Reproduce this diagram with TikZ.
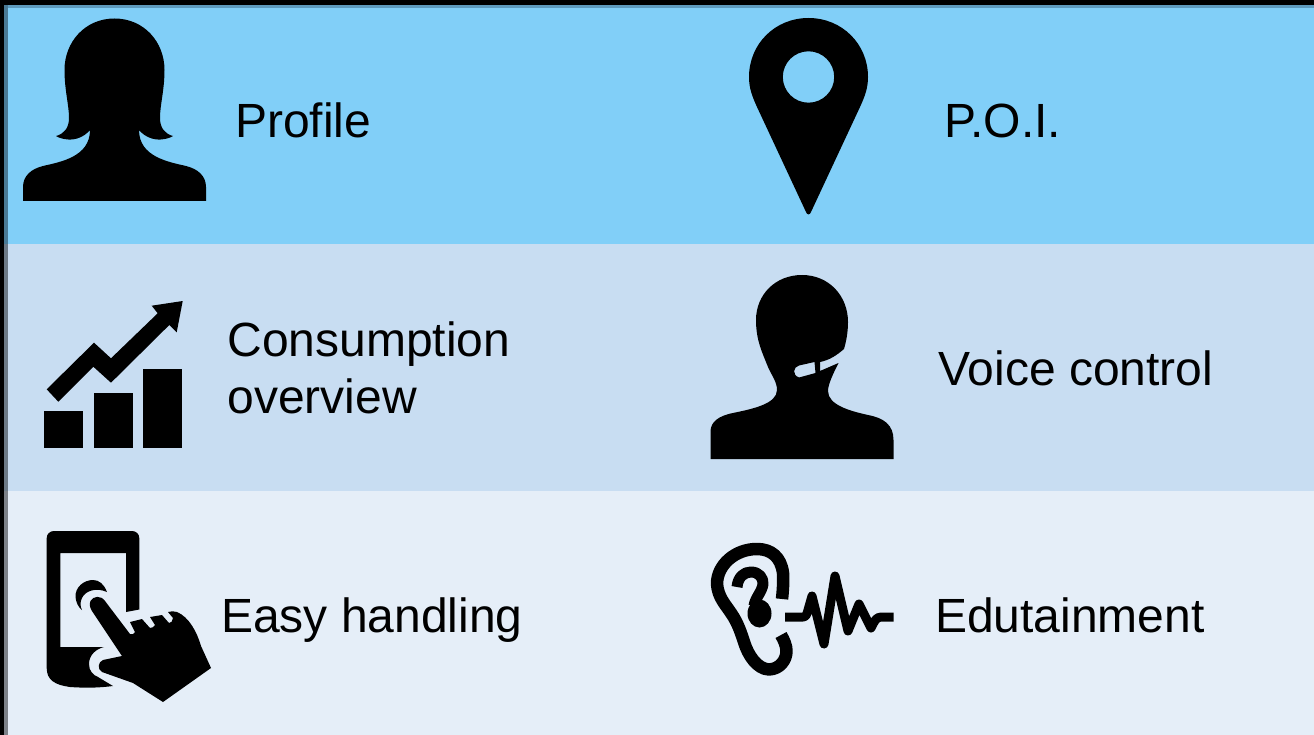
\documentclass[tikz,border=0pt]{standalone}
\usepackage{fontspec}
\setmainfont{Liberation Sans}
\definecolor{bandA}{HTML}{81CFF8}
\definecolor{bandB}{HTML}{C8DDF2}
\definecolor{bandC}{HTML}{E5EEF8}
\definecolor{edgeA}{HTML}{4A7A95}
\definecolor{edgeB}{HTML}{6C7A87}
\definecolor{edgeC}{HTML}{7C8188}
\definecolor{edgeT}{HTML}{5F9BBE}
\tikzset{
  txt/.style={anchor=base west,inner sep=0pt,outer sep=0pt,font=\fontsize{48}{57}\selectfont,text=black},
  icon/.style={fill=black,draw=none,even odd rule},
  strokeline/.style={draw=black,line width=#1,line cap=butt,line join=round},
}
\begin{document}
\begin{tikzpicture}[x=1pt,y=-1pt]
\useasboundingbox (0,0) rectangle (1314,735);
% background bands
\fill[black] (0,0) rectangle (1314,735);
\fill[edgeT] (8,5) rectangle (1314,8);
\fill[edgeA] (4,5) rectangle (8,244);
\fill[edgeB] (4,244) rectangle (8,491);
\fill[edgeC] (4,491) rectangle (8,735);
\fill[bandA] (8,8) rectangle (1314,244);
\fill[bandB] (8,244) rectangle (1314,491);
\fill[bandC] (8,491) rectangle (1314,735);
% woman
\path[icon] (23,201) -- (23,187) .. controls (23,176) and (31,169) .. (43,166)
  .. controls (60,162) and (90,157) .. (90,130)
  .. controls (84,137) and (76,140) .. (68,139.5) .. controls (63,139) and (59,138) .. (56,136)
  .. controls (64,134) and (69,128) .. (69,118) .. controls (69,105) and (64.5,90) .. (64.5,70)
  .. controls (64.5,42) and (85,18.5) .. (114.5,18.5) .. controls (144,18.5) and (164.5,42) .. (164.5,70)
  .. controls (164.5,90) and (160,105) .. (160,118) .. controls (160,128) and (165,134) .. (173,136)
  .. controls (170,138) and (166,139) .. (161,139.5) .. controls (153,140) and (145,137) .. (139,130)
  .. controls (139,157) and (169,162) .. (186,166)
  .. controls (198,169) and (206,176) .. (206,187) -- (206,201) -- cycle;
% pin
\path[icon] (808.5,214.5) .. controls (807,214.5) and (806.5,213) .. (806,212) -- (757,107)
  .. controls (752,96) and (749,88) .. (749,77) .. controls (749,44) and (775,18) .. (808.5,18)
  .. controls (842,18) and (868,44) .. (868,77) .. controls (868,88) and (865,96) .. (860,107)
  -- (811,212) .. controls (810.5,213) and (810,214.5) .. (808.5,214.5) -- cycle
  (808.5,77) circle [radius=25.7];
% chart
\fill[black] (44.3,411) rectangle (82.7,448);
\fill[black] (94,393.3) rectangle (132.7,448);
\fill[black] (143.3,369.3) rectangle (182.3,448);
\path[icon] (46.7,389.3) -- (94,342.7) -- (111,358.3) -- (157.7,313.3) -- (151.7,305.7)
  -- (182.7,301) -- (176.7,332.3) -- (169.3,325) -- (111,382.7) -- (93.3,366.7) -- (58.3,401.7) -- cycle;
% voice
\path[icon] (710.5,459) -- (710.5,431) .. controls (711,422) and (718,416) .. (733,413)
  .. controls (752,409) and (777,404) .. (777,390) .. controls (777,382) and (772,376) .. (768,367)
  .. controls (762,352) and (756,340) .. (756,320) .. controls (756,295) and (775,275) .. (802,275)
  .. controls (829,275) and (848,296) .. (848,322) .. controls (848,333) and (846,342) .. (844,349)
  .. controls (837,355) and (830,360) .. (820,362) -- (820,371) -- (838.5,363)
  .. controls (834,372) and (828,384) .. (828,391) .. controls (828,405) and (850,411) .. (868,415)
  .. controls (884,418) and (893.5,425) .. (893.5,440) -- (893.5,459) -- cycle
  (814.5,362) -- (799,365.5) .. controls (793,367) and (792,375) .. (799,377.5) -- (815.5,373) -- cycle;
% phone
\path[icon] (46.7,538) .. controls (46.7,534) and (50,531) .. (54,531) -- (132,531)
  .. controls (136,531) and (139.3,534) .. (139.3,538) -- (139.3,609.5) -- (126,612) -- (126,553)
  -- (60.3,553) -- (60.3,647) -- (104,647) .. controls (96,649) and (89,655) .. (89,664)
  .. controls (89,671) and (93,675) .. (98,677) -- (113,686) .. controls (98,688) and (84,688) .. (70,687)
  .. controls (55,685) and (46.7,680) .. (46.7,668) -- cycle;
\path[icon] (107,592) .. controls (104,584) and (99,580) .. (93,580) .. controls (84,580) and (75,587) .. (75.5,597)
  .. controls (76,602) and (78,607) .. (82,610) .. controls (80,606) and (80,602) .. (82,598)
  .. controls (85,591) and (96,587) .. (107,592) -- cycle;
\path[icon] (105,601) .. controls (101,595) and (93,596) .. (90.5,601) .. controls (89,604) and (90,608) .. (92,611)
  -- (122,656) -- (103,660) .. controls (98,662) and (97,669) .. (102,672) -- (133,683) -- (163,702) -- (211,668)
  -- (201,646) .. controls (197,632) and (189,617) .. (177,612) .. controls (174,611) and (171,611) .. (168,612)
  -- (173,618) .. controls (173,621) and (171,623) .. (169,623) -- (162,615) -- (150,617) -- (155,625)
  .. controls (154,627) and (152,628) .. (150,628) -- (142,619) -- (130,622) -- (135,632)
  .. controls (134,634) and (132,635) .. (130,634) -- cycle;
% ear
\draw[strokeline=12.5pt] (782,599) .. controls (783,590) and (783.5,581) .. (783,573)
  .. controls (781,557) and (771,549) .. (757,549) .. controls (735,549) and (717,565) .. (717,584)
  .. controls (718,597) and (725,604) .. (731,613) .. controls (738,623) and (741,633) .. (744,642)
  .. controls (748,655) and (757,669) .. (769,669.5) .. controls (780,669) and (786.5,660) .. (786.5,651)
  .. controls (786.5,646) and (784,640) .. (781,635);
\draw[strokeline=11pt] (737,587) .. controls (738,577) and (744,572) .. (751,572)
  .. controls (759,572) and (763.5,578) .. (763,584) .. controls (762,592) and (755,598) .. (754,606);
\fill[black] (759.5,613.5) ellipse [x radius=12,y radius=14];
\draw[strokeline=9pt] (785,617) -- (803,617) .. controls (806,617) and (807,614) .. (808,610)
  -- (812,596) -- (824,644) -- (835,576) -- (848,631) -- (859,604) -- (871,628)
  .. controls (874,622) and (876,617) .. (881,617) -- (893.5,617);
% labels
\node[txt] (profile) at (235,138) {Profile};
\node[txt] (poi) at (944.5,138) {P.O.I.};
\node[txt] (consumption) at (227.5,356.5) {Consumption};
\node[txt] (overview) at (227.5,413.5) {overview};
\node[txt] (voice) at (938.5,385) {Voice control};
\node[txt] (easy) at (221,632) {Easy handling};
\node[txt] (edu) at (935,632) {Edutainment};
\end{tikzpicture}
\end{document}
